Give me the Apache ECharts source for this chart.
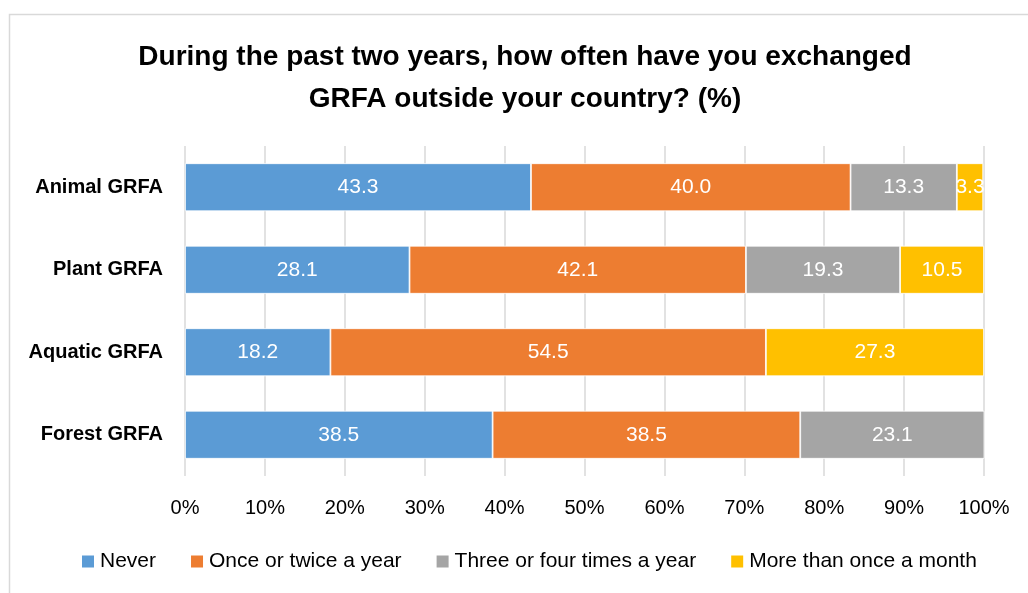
<!DOCTYPE html>
<html><head><meta charset="utf-8">
<script src="https://cdn.jsdelivr.net/npm/echarts@6/dist/echarts.min.js"></script>
<style>html,body{margin:0;padding:0;background:#fff}#c{width:1028px;height:593px}</style>
</head><body><div id="c"></div>
<script>
const categories = ['Animal GRFA', 'Plant GRFA', 'Aquatic GRFA', 'Forest GRFA'];
const seriesNames = ['Never', 'Once or twice a year', 'Three or four times a year', 'More than once a month'];
const never = [43.3, 28.1, 18.2, 38.5];
const onceTwice = [40.0, 42.1, 54.5, 38.5];
const threeFour = [13.3, 19.3, null, 23.1];
const moreMonth = [3.3, 10.5, 27.3, null];
const colors = ['#5B9BD5', '#ED7D31', '#A5A5A5', '#FFC000'];
const tickLabels = ['0%','10%','20%','30%','40%','50%','60%','70%','80%','90%','100%'];
const titleText = 'During the past two years, how often have you exchanged\nGRFA outside your country? (%)';

const FONT = 'Liberation Sans';
const values = [never, onceTwice, threeFour, moreMonth];
const chart = echarts.init(document.getElementById('c'));
chart.setOption({
  animation: false,
  textStyle: { fontFamily: FONT },
  graphic: [{ type: 'rect', shape: { x: 9.5, y: 14.5, width: 1100, height: 700 }, style: { fill: 'none', stroke: '#d9d9d9', lineWidth: 1.5 }, silent: true }],
  title: {
    text: titleText, left: 520, textAlign: 'center', top: 31,
    textStyle: { fontFamily: FONT, fontWeight: 'bold', fontSize: 28, lineHeight: 42, color: '#000' }
  },
  legend: {
    top: 546, left: 75, itemWidth: 14, itemHeight: 14, itemGap: 33, icon: 'rect',
    textStyle: { fontFamily: FONT, fontSize: 21, color: '#000' },
    data: seriesNames
  },
  grid: { left: 185, right: 44, top: 146, bottom: 117, containLabel: false },
  xAxis: {
    type: 'value', min: 0, max: 100, interval: 10,
    axisLine: { show: false }, axisTick: { show: false },
    splitLine: { show: true, lineStyle: { color: '#d9d9d9', width: 1.5 } },
    axisLabel: { fontFamily: FONT, fontSize: 20, color: '#000', margin: 22,
      formatter: v => tickLabels[Math.round(v / 10)] }
  },
  yAxis: {
    type: 'category', data: categories, inverse: true,
    axisLine: { show: false }, axisTick: { show: false },
    axisLabel: { fontFamily: FONT, fontSize: 20, fontWeight: 'bold', color: '#000', margin: 22 }
  },
  series: seriesNames.map((n, i) => ({
    name: n, type: 'bar', stack: 'total', barWidth: 48,
    itemStyle: { color: colors[i], borderColor: '#fff', borderWidth: 0.8 },
    label: { show: true, position: 'inside', color: '#fff', fontFamily: FONT, fontSize: 21,
      formatter: p => p.value == null ? '' : p.value.toFixed(1) },
    data: values[i]
  }))
});
</script></body></html>
